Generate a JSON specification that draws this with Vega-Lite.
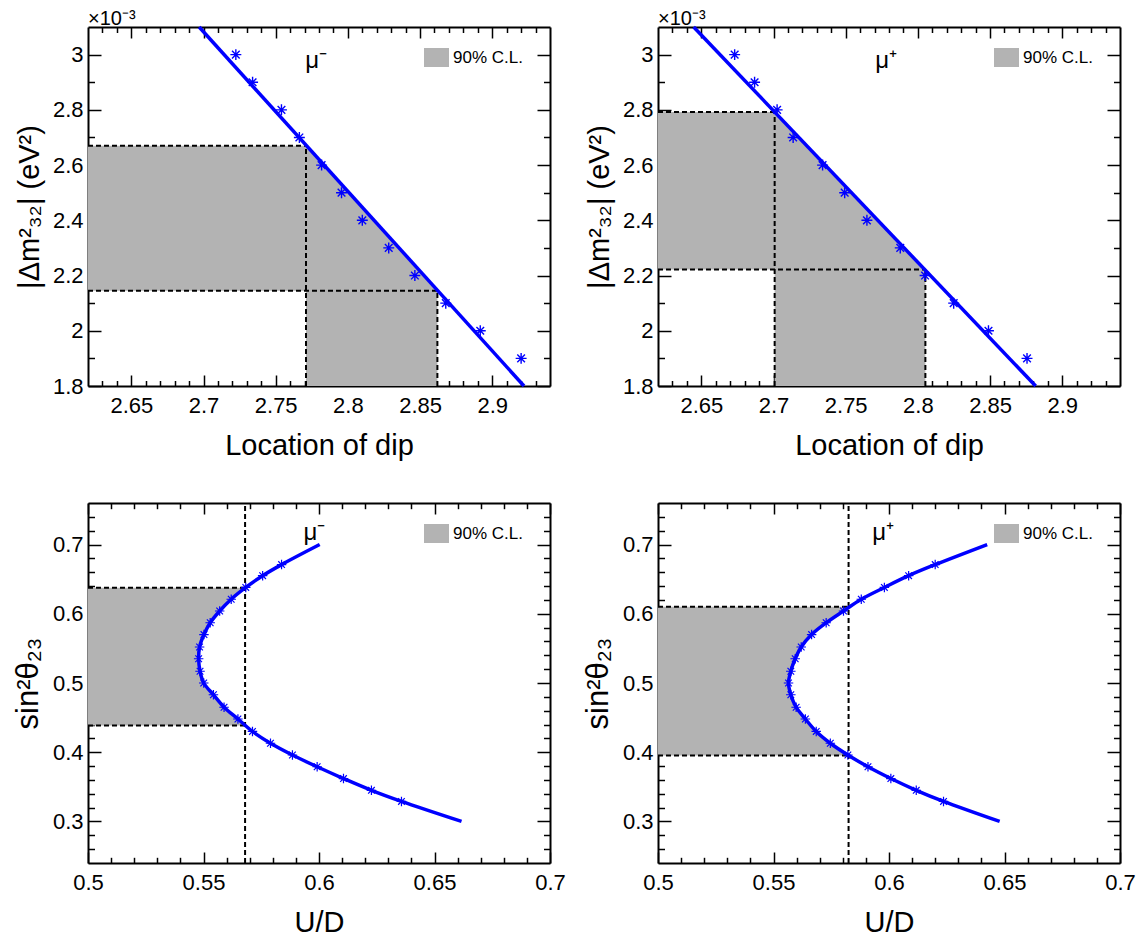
{
  "$schema": "https://vega.github.io/schema/vega-lite/v6.json",
  "background": "white",
  "padding": {"left": 12, "top": 9, "right": 0, "bottom": 0},
  "columns": 2,
  "spacing": {"row": 117, "column": 108},
  "bounds": "flush",
  "resolve": {"scale": {"fill": "independent"}, "legend": {"fill": "independent"}},
  "config": {
    "font": "Liberation Sans",
    "view": {"stroke": null},
    "axis": {
      "labelFont": "Liberation Sans", "labelFontSize": 22, "labelColor": "black",
      "titleFont": "Liberation Sans", "titleFontSize": 29, "titleFontWeight": "normal", "titleColor": "black",
      "grid": false, "tickColor": "black", "tickWidth": 1.5, "domainColor": "black", "domainWidth": 2,
      "labelFlush": false, "labelOverlap": false, "zindex": 1
    },
    "legend": {
      "orient": "none", "legendX": 336, "legendY": 18, "title": null,
      "symbolType": "M-1,-0.76L1,-0.76L1,0.76L-1,0.76Z", "symbolSize": 625, "symbolStrokeWidth": 0,
      "symbolOpacity": 1, "labelFont": "Liberation Sans", "labelFontSize": 17, "labelColor": "black",
      "labelOffset": 4, "padding": 0, "labelLimit": 300
    },
    "title": {"font": "Liberation Sans", "fontSize": 20, "fontWeight": "normal", "anchor": "start", "frame": "group", "offset": -9, "baseline": "alphabetic", "color": "black"}
  },
  "concat": [
    {
      "width": 462, "height": 359,
      "title": "×10⁻³",
      "resolve": {"axis": {"x": "independent", "y": "independent"}},
      "layer": [
        {
          "data": {"values": [
            {"x": 2.62, "y": 2.67, "y2": 2.145},
            {"x": 2.771, "y": 2.67, "y2": 2.145},
            {"x": 2.771, "y": 2.67, "y2": 1.8},
            {"x": 2.862, "y": 2.145, "y2": 1.8}
          ]},
          "mark": {"type": "area", "opacity": 1},
          "encoding": {
            "x": {"field": "x", "type": "quantitative", "scale": {"domain": [2.62, 2.94], "nice": false, "zero": false},
              "axis": {"orient": "bottom", "values": [2.65, 2.7, 2.75, 2.8, 2.85, 2.9], "format": "~g", "tickSize": -11, "labelPadding": 20, "title": "Location of dip", "titlePadding": 15, "domain": true}},
            "y": {"field": "y", "type": "quantitative", "scale": {"domain": [1.8, 3.1], "nice": false, "zero": false},
              "axis": {"orient": "left", "values": [1.8, 2, 2.2, 2.4, 2.6, 2.8, 3], "format": "~g", "tickSize": -13, "labelPadding": 18, "title": "|Δm²₃₂| (eV²)", "titlePadding": 8, "domain": true}},
            "y2": {"field": "y2"},
            "fill": {"datum": "90% C.L.", "type": "nominal", "scale": {"range": ["#b3b3b3"]}}
          }
        },
        {
          "data": {"values": [
            {"x": 2.62, "x2": 2.771, "y": 2.67, "y2": 2.67},
            {"x": 2.62, "x2": 2.862, "y": 2.145, "y2": 2.145},
            {"x": 2.771, "x2": 2.771, "y": 1.8, "y2": 2.67},
            {"x": 2.862, "x2": 2.862, "y": 1.8, "y2": 2.145}
          ]},
          "mark": {"type": "rule", "color": "black", "strokeWidth": 2, "strokeDash": [5, 3]},
          "encoding": {
            "x": {"field": "x", "type": "quantitative",
              "axis": {"orient": "bottom", "values": [2.63, 2.64, 2.66, 2.67, 2.68, 2.69, 2.71, 2.72, 2.73, 2.74, 2.76, 2.77, 2.78, 2.79, 2.81, 2.82, 2.83, 2.84, 2.86, 2.87, 2.88, 2.89, 2.91, 2.92, 2.93], "tickSize": -5.5, "labels": false, "domain": false, "title": null}},
            "x2": {"field": "x2"},
            "y": {"field": "y", "type": "quantitative",
              "axis": {"orient": "left", "values": [1.9, 2.1, 2.3, 2.5, 2.7, 2.9], "tickSize": -6.5, "labels": false, "domain": false, "title": null}},
            "y2": {"field": "y2"}
          }
        },
        {
          "data": {"values": [{"x": 2.697, "y": 3.1}, {"x": 2.922, "y": 1.8}]},
          "mark": {"type": "line", "color": "#0000ff", "strokeWidth": 3.5},
          "encoding": {
            "x": {"field": "x", "type": "quantitative",
              "axis": {"orient": "top", "values": [2.65, 2.7, 2.75, 2.8, 2.85, 2.9], "tickSize": -11, "labels": false, "domain": true, "title": null}},
            "y": {"field": "y", "type": "quantitative",
              "axis": {"orient": "right", "values": [1.8, 2, 2.2, 2.4, 2.6, 2.8, 3], "tickSize": -13, "labels": false, "domain": true, "title": null}}
          }
        },
        {
          "data": {"values": [
            {"x": 2.7224, "y": 3.0}, {"x": 2.734, "y": 2.9}, {"x": 2.754, "y": 2.8}, {"x": 2.7664, "y": 2.7},
            {"x": 2.7818, "y": 2.6}, {"x": 2.7956, "y": 2.5}, {"x": 2.81, "y": 2.4}, {"x": 2.8283, "y": 2.3},
            {"x": 2.8464, "y": 2.2}, {"x": 2.8678, "y": 2.1}, {"x": 2.8917, "y": 2.0}, {"x": 2.92, "y": 1.9}
          ]},
          "mark": {"type": "point", "shape": "M0,-1L0,1M-1,0L1,0M-0.7,-0.7L0.7,0.7M-0.7,0.7L0.7,-0.7", "filled": false, "stroke": "#0000ff", "strokeWidth": 1.4, "size": 120, "opacity": 1},
          "encoding": {
            "x": {"field": "x", "type": "quantitative",
              "axis": {"orient": "top", "values": [2.63, 2.64, 2.66, 2.67, 2.68, 2.69, 2.71, 2.72, 2.73, 2.74, 2.76, 2.77, 2.78, 2.79, 2.81, 2.82, 2.83, 2.84, 2.86, 2.87, 2.88, 2.89, 2.91, 2.92, 2.93], "tickSize": -5.5, "labels": false, "domain": false, "title": null}},
            "y": {"field": "y", "type": "quantitative",
              "axis": {"orient": "right", "values": [1.9, 2.1, 2.3, 2.5, 2.7, 2.9], "tickSize": -6.5, "labels": false, "domain": false, "title": null}}
          }
        },
        {
          "data": {"values": [{"label": "μ⁻", "x": 2.778, "y": 2.95}]},
          "mark": {"type": "text", "fontSize": 24, "align": "center", "baseline": "alphabetic", "color": "black"},
          "encoding": {
            "x": {"field": "x", "type": "quantitative", "axis": null},
            "y": {"field": "y", "type": "quantitative", "axis": null},
            "text": {"field": "label"}
          }
        }
      ]
    },
    {
      "width": 462, "height": 359,
      "title": "×10⁻³",
      "resolve": {"axis": {"x": "independent", "y": "independent"}},
      "layer": [
        {
          "data": {"values": [
            {"x": 2.62, "y": 2.7925, "y2": 2.222},
            {"x": 2.7008, "y": 2.7925, "y2": 2.222},
            {"x": 2.7008, "y": 2.7925, "y2": 1.8},
            {"x": 2.8052, "y": 2.222, "y2": 1.8}
          ]},
          "mark": {"type": "area", "opacity": 1},
          "encoding": {
            "x": {"field": "x", "type": "quantitative", "scale": {"domain": [2.62, 2.94], "nice": false, "zero": false},
              "axis": {"orient": "bottom", "values": [2.65, 2.7, 2.75, 2.8, 2.85, 2.9], "format": "~g", "tickSize": -11, "labelPadding": 20, "title": "Location of dip", "titlePadding": 15, "domain": true}},
            "y": {"field": "y", "type": "quantitative", "scale": {"domain": [1.8, 3.1], "nice": false, "zero": false},
              "axis": {"orient": "left", "values": [1.8, 2, 2.2, 2.4, 2.6, 2.8, 3], "format": "~g", "tickSize": -13, "labelPadding": 18, "title": "|Δm²₃₂| (eV²)", "titlePadding": 8, "domain": true}},
            "y2": {"field": "y2"},
            "fill": {"datum": "90% C.L.", "type": "nominal", "scale": {"range": ["#b3b3b3"]}}
          }
        },
        {
          "data": {"values": [
            {"x": 2.62, "x2": 2.7008, "y": 2.7925, "y2": 2.7925},
            {"x": 2.62, "x2": 2.8052, "y": 2.222, "y2": 2.222},
            {"x": 2.7008, "x2": 2.7008, "y": 1.8, "y2": 2.7925},
            {"x": 2.8052, "x2": 2.8052, "y": 1.8, "y2": 2.222}
          ]},
          "mark": {"type": "rule", "color": "black", "strokeWidth": 2, "strokeDash": [5, 3]},
          "encoding": {
            "x": {"field": "x", "type": "quantitative",
              "axis": {"orient": "bottom", "values": [2.63, 2.64, 2.66, 2.67, 2.68, 2.69, 2.71, 2.72, 2.73, 2.74, 2.76, 2.77, 2.78, 2.79, 2.81, 2.82, 2.83, 2.84, 2.86, 2.87, 2.88, 2.89, 2.91, 2.92, 2.93], "tickSize": -5.5, "labels": false, "domain": false, "title": null}},
            "x2": {"field": "x2"},
            "y": {"field": "y", "type": "quantitative",
              "axis": {"orient": "left", "values": [1.9, 2.1, 2.3, 2.5, 2.7, 2.9], "tickSize": -6.5, "labels": false, "domain": false, "title": null}},
            "y2": {"field": "y2"}
          }
        },
        {
          "data": {"values": [{"x": 2.6447, "y": 3.1}, {"x": 2.8816, "y": 1.8}]},
          "mark": {"type": "line", "color": "#0000ff", "strokeWidth": 3.5},
          "encoding": {
            "x": {"field": "x", "type": "quantitative",
              "axis": {"orient": "top", "values": [2.65, 2.7, 2.75, 2.8, 2.85, 2.9], "tickSize": -11, "labels": false, "domain": true, "title": null}},
            "y": {"field": "y", "type": "quantitative",
              "axis": {"orient": "right", "values": [1.8, 2, 2.2, 2.4, 2.6, 2.8, 3], "tickSize": -13, "labels": false, "domain": true, "title": null}}
          }
        },
        {
          "data": {"values": [
            {"x": 2.6731, "y": 3.0}, {"x": 2.6869, "y": 2.9}, {"x": 2.7025, "y": 2.8}, {"x": 2.7136, "y": 2.7},
            {"x": 2.734, "y": 2.6}, {"x": 2.7493, "y": 2.5}, {"x": 2.7647, "y": 2.4}, {"x": 2.7878, "y": 2.3},
            {"x": 2.805, "y": 2.2}, {"x": 2.8248, "y": 2.1}, {"x": 2.8489, "y": 2.0}, {"x": 2.8756, "y": 1.9}
          ]},
          "mark": {"type": "point", "shape": "M0,-1L0,1M-1,0L1,0M-0.7,-0.7L0.7,0.7M-0.7,0.7L0.7,-0.7", "filled": false, "stroke": "#0000ff", "strokeWidth": 1.4, "size": 120, "opacity": 1},
          "encoding": {
            "x": {"field": "x", "type": "quantitative",
              "axis": {"orient": "top", "values": [2.63, 2.64, 2.66, 2.67, 2.68, 2.69, 2.71, 2.72, 2.73, 2.74, 2.76, 2.77, 2.78, 2.79, 2.81, 2.82, 2.83, 2.84, 2.86, 2.87, 2.88, 2.89, 2.91, 2.92, 2.93], "tickSize": -5.5, "labels": false, "domain": false, "title": null}},
            "y": {"field": "y", "type": "quantitative",
              "axis": {"orient": "right", "values": [1.9, 2.1, 2.3, 2.5, 2.7, 2.9], "tickSize": -6.5, "labels": false, "domain": false, "title": null}}
          }
        },
        {
          "data": {"values": [{"label": "μ⁺", "x": 2.778, "y": 2.95}]},
          "mark": {"type": "text", "fontSize": 24, "align": "center", "baseline": "alphabetic", "color": "black"},
          "encoding": {
            "x": {"field": "x", "type": "quantitative", "axis": null},
            "y": {"field": "y", "type": "quantitative", "axis": null},
            "text": {"field": "label"}
          }
        }
      ]
    },
    {
      "width": 462, "height": 360,
      "resolve": {"axis": {"x": "independent", "y": "independent"}},
      "layer": [
        {
          "data": {"values": [
            {"y": 0.4386, "xa": 0.5, "xb": 0.568}, {"y": 0.448, "xa": 0.5, "xb": 0.5649}, {"y": 0.465, "xa": 0.5, "xb": 0.5589},
            {"y": 0.483, "xa": 0.5, "xb": 0.5543}, {"y": 0.5, "xa": 0.5, "xb": 0.5501}, {"y": 0.517, "xa": 0.5, "xb": 0.5485},
            {"y": 0.535, "xa": 0.5, "xb": 0.5479}, {"y": 0.552, "xa": 0.5, "xb": 0.5483}, {"y": 0.57, "xa": 0.5, "xb": 0.5502},
            {"y": 0.587, "xa": 0.5, "xb": 0.5529}, {"y": 0.604, "xa": 0.5, "xb": 0.557}, {"y": 0.621, "xa": 0.5, "xb": 0.562},
            {"y": 0.6377, "xa": 0.5, "xb": 0.568}
          ]},
          "mark": {"type": "area", "opacity": 1, "interpolate": "catmull-rom"},
          "encoding": {
            "y": {"field": "y", "type": "quantitative", "scale": {"domain": [0.24, 0.76], "nice": false, "zero": false},
              "axis": {"orient": "left", "values": [0.3, 0.4, 0.5, 0.6, 0.7], "format": "~g", "tickSize": -13, "labelPadding": 18, "title": "sin²θ₂₃", "titleFontSize": 31, "titlePadding": 8, "domain": true}},
            "x": {"field": "xa", "type": "quantitative", "scale": {"domain": [0.5, 0.7], "nice": false, "zero": false},
              "axis": {"orient": "bottom", "values": [0.5, 0.55, 0.6, 0.65, 0.7], "format": "~g", "tickSize": -11, "labelPadding": 20, "title": "U/D", "titlePadding": 15, "domain": true}},
            "x2": {"field": "xb"},
            "fill": {"datum": "90% C.L.", "type": "nominal", "scale": {"range": ["#b3b3b3"]}}
          }
        },
        {
          "data": {"values": [
            {"x": 0.5, "x2": 0.568, "y": 0.6377, "y2": 0.6377},
            {"x": 0.5, "x2": 0.568, "y": 0.4386, "y2": 0.4386},
            {"x": 0.568, "x2": 0.568, "y": 0.24, "y2": 0.76}
          ]},
          "mark": {"type": "rule", "color": "black", "strokeWidth": 2, "strokeDash": [5, 3]},
          "encoding": {
            "x": {"field": "x", "type": "quantitative",
              "axis": {"orient": "bottom", "values": [0.51, 0.52, 0.53, 0.54, 0.56, 0.57, 0.58, 0.59, 0.61, 0.62, 0.63, 0.64, 0.66, 0.67, 0.68, 0.69], "tickSize": -5.7, "labels": false, "domain": false, "title": null}},
            "x2": {"field": "x2"},
            "y": {"field": "y", "type": "quantitative",
              "axis": {"orient": "left", "values": [0.26, 0.28, 0.32, 0.34, 0.36, 0.38, 0.42, 0.44, 0.46, 0.48, 0.52, 0.54, 0.56, 0.58, 0.62, 0.64, 0.66, 0.68, 0.72, 0.74], "tickSize": -6.5, "labels": false, "domain": false, "title": null}},
            "y2": {"field": "y2"}
          }
        },
        {
          "data": {"values": [
            {"x": 0.6617, "y": 0.3}, {"x": 0.6357, "y": 0.329}, {"x": 0.6227, "y": 0.345}, {"x": 0.6106, "y": 0.362},
            {"x": 0.5992, "y": 0.379}, {"x": 0.5885, "y": 0.396}, {"x": 0.579, "y": 0.413}, {"x": 0.5712, "y": 0.43},
            {"x": 0.5649, "y": 0.448}, {"x": 0.5589, "y": 0.465}, {"x": 0.5543, "y": 0.483}, {"x": 0.5501, "y": 0.5},
            {"x": 0.5485, "y": 0.517}, {"x": 0.5479, "y": 0.535}, {"x": 0.5483, "y": 0.552}, {"x": 0.5502, "y": 0.57},
            {"x": 0.5529, "y": 0.587}, {"x": 0.557, "y": 0.604}, {"x": 0.562, "y": 0.621}, {"x": 0.5683, "y": 0.638},
            {"x": 0.5756, "y": 0.655}, {"x": 0.5838, "y": 0.671}, {"x": 0.6003, "y": 0.7}
          ]},
          "mark": {"type": "line", "color": "#0000ff", "strokeWidth": 3.5, "interpolate": "catmull-rom"},
          "encoding": {
            "x": {"field": "x", "type": "quantitative",
              "axis": {"orient": "top", "values": [0.5, 0.55, 0.6, 0.65, 0.7], "tickSize": -11, "labels": false, "domain": true, "title": null}},
            "y": {"field": "y", "type": "quantitative",
              "axis": {"orient": "right", "values": [0.3, 0.4, 0.5, 0.6, 0.7], "tickSize": -13, "labels": false, "domain": true, "title": null}},
            "order": {"field": "y"}
          }
        },
        {
          "data": {"values": [
            {"x": 0.6357, "y": 0.329}, {"x": 0.6227, "y": 0.345}, {"x": 0.6106, "y": 0.362},
            {"x": 0.5992, "y": 0.379}, {"x": 0.5885, "y": 0.396}, {"x": 0.579, "y": 0.413}, {"x": 0.5712, "y": 0.43},
            {"x": 0.5649, "y": 0.448}, {"x": 0.5589, "y": 0.465}, {"x": 0.5543, "y": 0.483}, {"x": 0.5501, "y": 0.5},
            {"x": 0.5485, "y": 0.517}, {"x": 0.5479, "y": 0.535}, {"x": 0.5483, "y": 0.552}, {"x": 0.5502, "y": 0.57},
            {"x": 0.5529, "y": 0.587}, {"x": 0.557, "y": 0.604}, {"x": 0.562, "y": 0.621}, {"x": 0.5683, "y": 0.638},
            {"x": 0.5756, "y": 0.655}, {"x": 0.5838, "y": 0.671}
          ]},
          "mark": {"type": "point", "shape": "M0,-1L0,1M-1,0L1,0M-0.7,-0.7L0.7,0.7M-0.7,0.7L0.7,-0.7", "filled": false, "stroke": "#0000ff", "strokeWidth": 1.2, "size": 90, "opacity": 1},
          "encoding": {
            "x": {"field": "x", "type": "quantitative",
              "axis": {"orient": "top", "values": [0.51, 0.52, 0.53, 0.54, 0.56, 0.57, 0.58, 0.59, 0.61, 0.62, 0.63, 0.64, 0.66, 0.67, 0.68, 0.69], "tickSize": -5.7, "labels": false, "domain": false, "title": null}},
            "y": {"field": "y", "type": "quantitative",
              "axis": {"orient": "right", "values": [0.26, 0.28, 0.32, 0.34, 0.36, 0.38, 0.42, 0.44, 0.46, 0.48, 0.52, 0.54, 0.56, 0.58, 0.62, 0.64, 0.66, 0.68, 0.72, 0.74], "tickSize": -6.5, "labels": false, "domain": false, "title": null}}
          }
        },
        {
          "data": {"values": [{"label": "μ⁻", "x": 0.598, "y": 0.707}]},
          "mark": {"type": "text", "fontSize": 24, "align": "center", "baseline": "alphabetic", "color": "black"},
          "encoding": {
            "x": {"field": "x", "type": "quantitative", "axis": null},
            "y": {"field": "y", "type": "quantitative", "axis": null},
            "text": {"field": "label"}
          }
        }
      ]
    },
    {
      "width": 462, "height": 360,
      "resolve": {"axis": {"x": "independent", "y": "independent"}},
      "layer": [
        {
          "data": {"values": [
            {"y": 0.3952, "xa": 0.5, "xb": 0.5825}, {"y": 0.413, "xa": 0.5, "xb": 0.5746}, {"y": 0.43, "xa": 0.5, "xb": 0.5685},
            {"y": 0.448, "xa": 0.5, "xb": 0.5638}, {"y": 0.465, "xa": 0.5, "xb": 0.5598}, {"y": 0.483, "xa": 0.5, "xb": 0.5575},
            {"y": 0.5, "xa": 0.5, "xb": 0.5565}, {"y": 0.517, "xa": 0.5, "xb": 0.5575}, {"y": 0.535, "xa": 0.5, "xb": 0.5594},
            {"y": 0.552, "xa": 0.5, "xb": 0.562}, {"y": 0.57, "xa": 0.5, "xb": 0.5665}, {"y": 0.587, "xa": 0.5, "xb": 0.5728},
            {"y": 0.604, "xa": 0.5, "xb": 0.5803}, {"y": 0.61, "xa": 0.5, "xb": 0.5825}
          ]},
          "mark": {"type": "area", "opacity": 1, "interpolate": "catmull-rom"},
          "encoding": {
            "y": {"field": "y", "type": "quantitative", "scale": {"domain": [0.24, 0.76], "nice": false, "zero": false},
              "axis": {"orient": "left", "values": [0.3, 0.4, 0.5, 0.6, 0.7], "format": "~g", "tickSize": -13, "labelPadding": 18, "title": "sin²θ₂₃", "titleFontSize": 31, "titlePadding": 8, "domain": true}},
            "x": {"field": "xa", "type": "quantitative", "scale": {"domain": [0.5, 0.7], "nice": false, "zero": false},
              "axis": {"orient": "bottom", "values": [0.5, 0.55, 0.6, 0.65, 0.7], "format": "~g", "tickSize": -11, "labelPadding": 20, "title": "U/D", "titlePadding": 15, "domain": true}},
            "x2": {"field": "xb"},
            "fill": {"datum": "90% C.L.", "type": "nominal", "scale": {"range": ["#b3b3b3"]}}
          }
        },
        {
          "data": {"values": [
            {"x": 0.5, "x2": 0.5825, "y": 0.61, "y2": 0.61},
            {"x": 0.5, "x2": 0.5825, "y": 0.3952, "y2": 0.3952},
            {"x": 0.5825, "x2": 0.5825, "y": 0.24, "y2": 0.76}
          ]},
          "mark": {"type": "rule", "color": "black", "strokeWidth": 2, "strokeDash": [5, 3]},
          "encoding": {
            "x": {"field": "x", "type": "quantitative",
              "axis": {"orient": "bottom", "values": [0.51, 0.52, 0.53, 0.54, 0.56, 0.57, 0.58, 0.59, 0.61, 0.62, 0.63, 0.64, 0.66, 0.67, 0.68, 0.69], "tickSize": -5.7, "labels": false, "domain": false, "title": null}},
            "x2": {"field": "x2"},
            "y": {"field": "y", "type": "quantitative",
              "axis": {"orient": "left", "values": [0.26, 0.28, 0.32, 0.34, 0.36, 0.38, 0.42, 0.44, 0.46, 0.48, 0.52, 0.54, 0.56, 0.58, 0.62, 0.64, 0.66, 0.68, 0.72, 0.74], "tickSize": -6.5, "labels": false, "domain": false, "title": null}},
            "y2": {"field": "y2"}
          }
        },
        {
          "data": {"values": [
            {"x": 0.6479, "y": 0.3}, {"x": 0.6236, "y": 0.329}, {"x": 0.6118, "y": 0.345}, {"x": 0.6008, "y": 0.362},
            {"x": 0.5909, "y": 0.379}, {"x": 0.5822, "y": 0.396}, {"x": 0.5746, "y": 0.413}, {"x": 0.5685, "y": 0.43},
            {"x": 0.5638, "y": 0.448}, {"x": 0.5598, "y": 0.465}, {"x": 0.5575, "y": 0.483}, {"x": 0.5565, "y": 0.5},
            {"x": 0.5575, "y": 0.517}, {"x": 0.5594, "y": 0.535}, {"x": 0.562, "y": 0.552}, {"x": 0.5665, "y": 0.57},
            {"x": 0.5728, "y": 0.587}, {"x": 0.5803, "y": 0.604}, {"x": 0.588, "y": 0.621}, {"x": 0.598, "y": 0.638},
            {"x": 0.6085, "y": 0.655}, {"x": 0.62, "y": 0.671}, {"x": 0.6425, "y": 0.7}
          ]},
          "mark": {"type": "line", "color": "#0000ff", "strokeWidth": 3.5, "interpolate": "catmull-rom"},
          "encoding": {
            "x": {"field": "x", "type": "quantitative",
              "axis": {"orient": "top", "values": [0.5, 0.55, 0.6, 0.65, 0.7], "tickSize": -11, "labels": false, "domain": true, "title": null}},
            "y": {"field": "y", "type": "quantitative",
              "axis": {"orient": "right", "values": [0.3, 0.4, 0.5, 0.6, 0.7], "tickSize": -13, "labels": false, "domain": true, "title": null}},
            "order": {"field": "y"}
          }
        },
        {
          "data": {"values": [
            {"x": 0.6236, "y": 0.329}, {"x": 0.6118, "y": 0.345}, {"x": 0.6008, "y": 0.362},
            {"x": 0.5909, "y": 0.379}, {"x": 0.5822, "y": 0.396}, {"x": 0.5746, "y": 0.413}, {"x": 0.5685, "y": 0.43},
            {"x": 0.5638, "y": 0.448}, {"x": 0.5598, "y": 0.465}, {"x": 0.5575, "y": 0.483}, {"x": 0.5565, "y": 0.5},
            {"x": 0.5575, "y": 0.517}, {"x": 0.5594, "y": 0.535}, {"x": 0.562, "y": 0.552}, {"x": 0.5665, "y": 0.57},
            {"x": 0.5728, "y": 0.587}, {"x": 0.5803, "y": 0.604}, {"x": 0.588, "y": 0.621}, {"x": 0.598, "y": 0.638},
            {"x": 0.6085, "y": 0.655}, {"x": 0.62, "y": 0.671}
          ]},
          "mark": {"type": "point", "shape": "M0,-1L0,1M-1,0L1,0M-0.7,-0.7L0.7,0.7M-0.7,0.7L0.7,-0.7", "filled": false, "stroke": "#0000ff", "strokeWidth": 1.2, "size": 90, "opacity": 1},
          "encoding": {
            "x": {"field": "x", "type": "quantitative",
              "axis": {"orient": "top", "values": [0.51, 0.52, 0.53, 0.54, 0.56, 0.57, 0.58, 0.59, 0.61, 0.62, 0.63, 0.64, 0.66, 0.67, 0.68, 0.69], "tickSize": -5.7, "labels": false, "domain": false, "title": null}},
            "y": {"field": "y", "type": "quantitative",
              "axis": {"orient": "right", "values": [0.26, 0.28, 0.32, 0.34, 0.36, 0.38, 0.42, 0.44, 0.46, 0.48, 0.52, 0.54, 0.56, 0.58, 0.62, 0.64, 0.66, 0.68, 0.72, 0.74], "tickSize": -6.5, "labels": false, "domain": false, "title": null}}
          }
        },
        {
          "data": {"values": [{"label": "μ⁺", "x": 0.5975, "y": 0.707}]},
          "mark": {"type": "text", "fontSize": 24, "align": "center", "baseline": "alphabetic", "color": "black"},
          "encoding": {
            "x": {"field": "x", "type": "quantitative", "axis": null},
            "y": {"field": "y", "type": "quantitative", "axis": null},
            "text": {"field": "label"}
          }
        }
      ]
    }
  ]
}
